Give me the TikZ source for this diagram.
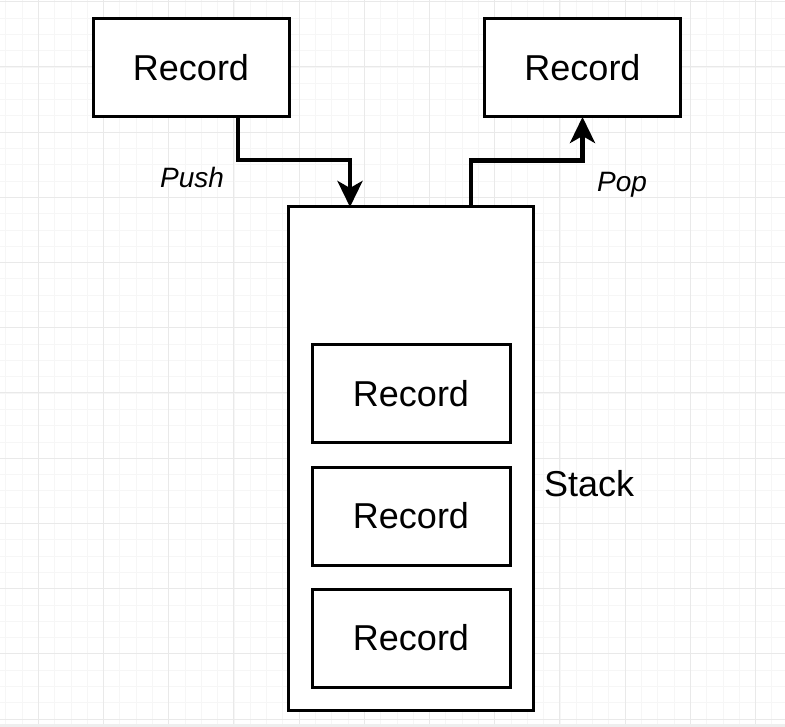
\documentclass[tikz,border=0pt]{standalone}
\usepackage{fontspec}
\setmainfont{Liberation Sans}
\usetikzlibrary{arrows.meta}
\definecolor{gridminor}{RGB}{246,246,246}
\definecolor{gridmajor}{RGB}{233,233,233}
\definecolor{bottomband}{RGB}{238,238,238}
\tikzset{
  recbox/.style={draw=black, line width=3pt, fill=white, minimum width=196pt, minimum height=98pt, outer sep=0pt, inner sep=0pt, font=\fontsize{36}{40}\selectfont},
  stackbox/.style={draw=black, line width=3pt, fill=white, minimum width=245pt, minimum height=503pt, outer sep=0pt, inner sep=0pt},
  conn/.style={draw=black, line width=4.3pt, -{Stealth[length=26pt,width=25pt,inset=7pt]}},
  lbl/.style={font=\fontsize{28}{32}\selectfont\itshape, inner sep=0pt, anchor=base west},
  minorgrid/.style={draw=gridminor, line width=0.8pt},
  majorgrid/.style={draw=gridmajor, line width=1pt}
}
\begin{document}
\begin{tikzpicture}[x=1pt, y=-1pt]
\useasboundingbox (0,0) rectangle (785,727);
\fill[white] (0,0) rectangle (785,727);
% grid
\foreach \i in {-2,...,48} {
  \draw[minorgrid] ({38.3+16.3*\i},0) -- ({38.3+16.3*\i},727);
}
\foreach \i in {0,...,45} {
  \draw[minorgrid] (0,{1.8+16.3*\i}) -- (785,{1.8+16.3*\i});
}
\foreach \i in {-1,...,12} {
  \draw[majorgrid] ({38.3+65.2*\i},0) -- ({38.3+65.2*\i},727);
}
\foreach \i in {0,...,11} {
  \draw[majorgrid] (0,{1.8+65.2*\i}) -- (785,{1.8+65.2*\i});
}
\fill[bottomband] (0,724) rectangle (785,727);

% nodes
\node[recbox] (recA) at (191,68) {Record};
\node[recbox] (recB) at (582.5,68) {Record};
\node[stackbox] (stack) at (410.5,458.5) {};
\node[recbox, minimum width=198pt] (r1) at (411,393.5) {Record};
\node[recbox, minimum width=198pt] (r2) at (411,516) {Record};
\node[recbox, minimum width=198pt] (r3) at (411,638) {Record};
\node[font=\fontsize{36}{40}\selectfont, inner sep=0pt, anchor=west] (stacklbl) at (544,484) {Stack};
\node[lbl] (push) at (160,188) {Push};
\node[lbl] (pop) at (597,192) {Pop};

% connectors
\draw[conn] ([xshift=47pt]recA.south) -- ++(0,43) -| ([xshift=-60.5pt]stack.north);
\draw[conn] ([xshift=60.2pt]stack.north) -- ++(0,-46.5) -| (recB.south);
\end{tikzpicture}
\end{document}
